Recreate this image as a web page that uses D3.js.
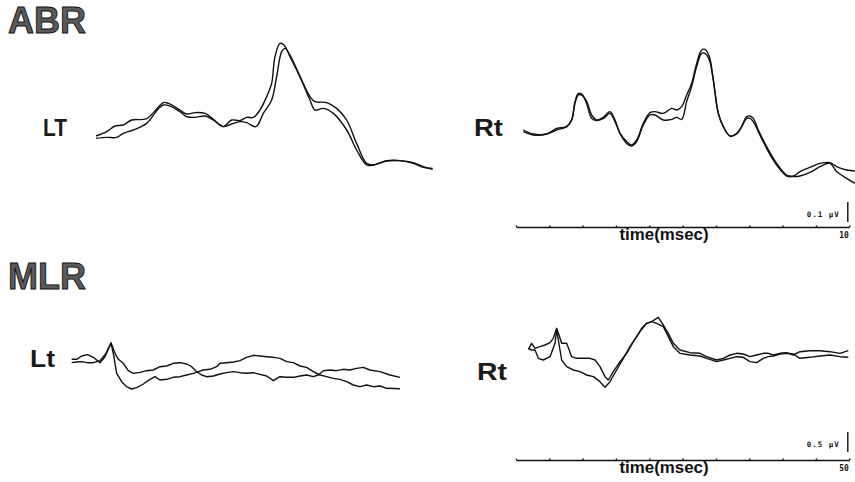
<!DOCTYPE html>
<html>
<head>
<meta charset="utf-8">
<script src="https://cdn.jsdelivr.net/npm/d3@7"></script>
<style>
  body { margin: 0; background: #fff; }
  svg { display: block; }
  .title { font-family: "Liberation Sans", Arial, sans-serif; font-weight: bold; font-size: 36px; fill: #5a5a5a; stroke: #111; stroke-width: 0.9px; }
  .side { font-family: "Liberation Sans", Arial, sans-serif; font-weight: bold; font-size: 24px; fill: #1a1a1a; }
  .trace { fill: none; stroke: #111; stroke-width: 1.4px; stroke-linejoin: round; }
  .axis path, .axis line { stroke: #111; stroke-width: 1.4px; }
  .axis text { font-family: "DejaVu Sans Mono", monospace; font-size: 8px; font-weight: bold; fill: #111; }
  .xlabel { font-family: "Liberation Sans", Arial, sans-serif; font-weight: bold; font-size: 16px; fill: #111; }
  .unit { font-family: "DejaVu Sans Mono", monospace; font-weight: bold; font-size: 7.5px; letter-spacing: 1px; fill: #111; }
</style>
</head>
<body>
<div id="chart"></div>
<script>
// [time ms, amplitude uV]
const abrLtA = [[0.21,0.02],[0.53,0.042],[0.78,0.07],[1.03,0.075],[1.28,0.1],[1.73,0.107],[2.23,0.187],[2.38,0.183],[2.73,0.15],[2.93,0.13],[3.18,0.137],[3.48,0.133],[3.73,0.103],[4.03,0.067],[4.28,0.1],[4.53,0.097],[4.73,0.113],[4.93,0.113],[5.13,0.15],[5.33,0.217],[5.48,0.283],[5.58,0.417],[5.73,0.483],[5.85,0.475],[6.03,0.417],[6.33,0.317],[6.63,0.217],[6.78,0.192],[7.13,0.187],[7.43,0.158],[7.73,0.1],[8.03,-0.017],[8.33,-0.117],[8.53,-0.125],[8.93,-0.103],[9.33,-0.103],[9.73,-0.117],[10.03,-0.137],[10.31,-0.142]];
const abrLtB = [[0.21,0.008],[0.53,0.013],[0.83,0.013],[1.03,0.033],[1.33,0.05],[1.73,0.083],[2.23,0.175],[2.73,0.142],[2.93,0.117],[3.18,0.113],[3.48,0.12],[3.73,0.1],[4.03,0.067],[4.28,0.08],[4.53,0.092],[4.73,0.087],[5.01,0.067],[5.23,0.133],[5.48,0.2],[5.63,0.317],[5.78,0.442],[5.88,0.458],[6.03,0.425],[6.33,0.317],[6.63,0.2],[6.78,0.15],[7.03,0.158],[7.33,0.133],[7.73,0.05],[8.03,-0.05],[8.33,-0.125],[8.53,-0.125],[8.93,-0.105],[9.33,-0.103],[9.73,-0.113],[10.03,-0.133],[10.31,-0.147]];
const abrRtA = [[0.22,0.042],[0.52,0.025],[0.92,0.03],[1.22,0.058],[1.52,0.067],[1.67,0.1],[1.77,0.183],[1.87,0.225],[1.97,0.225],[2.12,0.192],[2.27,0.125],[2.42,0.1],[2.62,0.113],[2.82,0.142],[2.97,0.1],[3.12,0.033],[3.32,-0.008],[3.47,-0.025],[3.62,0],[3.82,0.083],[4.02,0.137],[4.17,0.142],[4.42,0.133],[4.67,0.158],[4.82,0.15],[4.97,0.167],[5.12,0.225],[5.27,0.283],[5.42,0.383],[5.57,0.45],[5.67,0.453],[5.8,0.417],[5.92,0.3],[6.07,0.133],[6.22,0.067],[6.42,0.02],[6.62,0.03],[6.77,0.067],[6.92,0.117],[7.02,0.12],[7.12,0.108],[7.27,0.05],[7.52,-0.033],[7.82,-0.117],[8.12,-0.175],[8.32,-0.18],[8.52,-0.158],[8.87,-0.133],[9.12,-0.117],[9.42,-0.113],[9.62,-0.133],[9.92,-0.15],[10.17,-0.155]];
const abrRtB = [[0.22,0.05],[0.52,0.03],[0.92,0.03],[1.22,0.05],[1.52,0.067],[1.67,0.1],[1.77,0.192],[1.87,0.233],[1.97,0.23],[2.12,0.183],[2.27,0.108],[2.42,0.097],[2.62,0.108],[2.82,0.133],[2.97,0.092],[3.12,0.033],[3.32,-0.017],[3.47,-0.03],[3.62,-0.008],[3.82,0.075],[4.02,0.125],[4.17,0.125],[4.42,0.1],[4.67,0.103],[4.82,0.113],[4.97,0.103],[5.12,0.192],[5.27,0.267],[5.42,0.367],[5.57,0.433],[5.67,0.433],[5.8,0.4],[5.92,0.3],[6.07,0.133],[6.22,0.067],[6.42,0.02],[6.62,0.033],[6.77,0.067],[6.92,0.108],[7.02,0.108],[7.12,0.092],[7.27,0.042],[7.52,-0.042],[7.82,-0.125],[8.12,-0.18],[8.32,-0.183],[8.52,-0.18],[8.87,-0.158],[9.12,-0.133],[9.42,-0.117],[9.62,-0.158],[9.92,-0.192],[10.17,-0.217]];

const mlrLtA = [[1.75,0.017],[2.5,0.017],[3.25,0.1],[4.1,0.133],[5,0.067],[6,-0.067],[6.75,0.083],[7.65,0.433],[8.25,0.167],[8.75,0.017],[9.5,-0.083],[10.25,-0.267],[11,-0.333],[12,-0.308],[13,-0.267],[14,-0.25],[15,-0.167],[16,-0.15],[17,-0.083],[18,-0.067],[19,-0.1],[19.75,-0.167],[20.5,-0.292],[21.25,-0.375],[22,-0.417],[23,-0.4],[24,-0.35],[25,-0.317],[26,-0.292],[27,-0.317],[28,-0.333],[29,-0.317],[30,-0.358],[31,-0.4],[32,-0.517],[33,-0.417],[34,-0.433],[35,-0.433],[36,-0.4],[37,-0.375],[38,-0.417],[38.75,-0.375],[39.5,-0.267],[40.5,-0.25],[41.5,-0.267],[42.5,-0.233],[43.5,-0.25],[44.5,-0.208],[45.5,-0.183],[46.5,-0.25],[48,-0.292],[49.5,-0.375],[51,-0.433]];
const mlrLtB = [[1.75,-0.067],[2.5,-0.05],[3.25,-0.042],[4.1,-0.067],[5,-0.067],[6,-0.017],[6.9,0.167],[7.65,0.417],[8,0.167],[8.5,-0.333],[9.25,-0.542],[10,-0.667],[10.75,-0.725],[11.5,-0.692],[12.5,-0.6],[13.5,-0.483],[14.25,-0.417],[15,-0.5],[16,-0.483],[17,-0.433],[18,-0.417],[19,-0.375],[20,-0.333],[20.75,-0.292],[21.5,-0.25],[22.5,-0.233],[23.5,-0.167],[24,-0.083],[25,-0.067],[26,-0.05],[27,-0.017],[28,0.067],[29,0.117],[30,0.1],[31,0.083],[32,0.067],[33,0.042],[34,-0.042],[35,-0.067],[36,-0.15],[37,-0.183],[38,-0.292],[39,-0.375],[40,-0.417],[41,-0.458],[42,-0.483],[43,-0.542],[44,-0.625],[45,-0.667],[46,-0.625],[47,-0.667],[48,-0.65],[49,-0.708],[51,-0.717]];
const mlrRtA = [[1.85,0.017],[2.35,0.167],[2.85,0.042],[3.6,0.083],[4.35,0.125],[5.1,0.183],[5.6,0.292],[6.1,0.542],[6.45,0.375],[6.85,0.167],[7.6,0.167],[8.35,-0.167],[9.1,-0.208],[10.1,-0.208],[11.1,-0.208],[11.85,-0.25],[12.6,-0.417],[13.35,-0.667],[13.85,-0.75],[14.6,-0.542],[15.6,-0.292],[16.6,-0.083],[17.6,0.208],[18.6,0.458],[19.6,0.667],[20.35,0.708],[21.35,0.817],[22.1,0.625],[22.85,0.417],[23.6,0.167],[24.6,0],[26.1,-0.067],[27.6,-0.083],[28.6,-0.167],[30.1,-0.25],[31.1,-0.208],[32.1,-0.125],[33.1,-0.083],[34.1,-0.1],[35.1,-0.167],[36.1,-0.125],[37.1,-0.083],[37.85,-0.083],[38.6,-0.125],[39.6,-0.083],[40.6,-0.067],[41.6,-0.125],[42.6,-0.042],[44.1,-0.017],[45.6,-0.017],[47.1,-0.042],[48.6,-0.083],[49.85,-0.017]];
const mlrRtB = [[1.85,0.042],[2.35,0],[2.85,0],[3.35,-0.208],[4.1,-0.25],[5.1,-0.167],[5.85,0.167],[6.1,0.5],[6.35,0.25],[6.85,-0.25],[7.6,-0.417],[8.6,-0.5],[9.6,-0.542],[10.6,-0.625],[11.6,-0.667],[12.6,-0.792],[13.35,-0.933],[14.1,-0.792],[15.1,-0.5],[16.1,-0.208],[17.1,0.083],[18.1,0.333],[18.85,0.542],[19.6,0.667],[20.35,0.708],[21.1,0.667],[22.1,0.583],[22.85,0.333],[23.6,0.083],[24.6,-0.083],[26.1,-0.125],[27.6,-0.15],[28.6,-0.208],[30.1,-0.292],[31.1,-0.25],[32.1,-0.208],[33.1,-0.167],[34.1,-0.183],[35.1,-0.292],[36.1,-0.317],[37.1,-0.208],[37.85,-0.167],[38.6,-0.15],[39.6,-0.1],[40.6,-0.083],[41.6,-0.1],[42.6,-0.208],[44.1,-0.183],[45.6,-0.15],[47.1,-0.125],[48.6,-0.167],[49.85,-0.183]];

// scale bars and time axes
const abrTimeDomain = [0, 10];
const mlrTimeDomain = [0, 50];
const abrBarValue = 0.1;
const mlrBarValue = 0.5;
const abrBarLabel = "0.1 \u03bcV";
const mlrBarLabel = "0.5 \u03bcV";
const axisTitle = "time(msec)";

const width = 855, height = 482;

const svg = d3.select("#chart").append("svg")
  .attr("width", width)
  .attr("height", height);

// titles
svg.append("text").attr("class", "title").attr("x", 8).attr("y", 33).text("ABR");
svg.append("text").attr("class", "title").attr("x", 8).attr("y", 289).text("MLR");

// side labels
function sideLabel(txt, x, y, len) {
  svg.append("text").attr("class", "side")
    .attr("x", x).attr("y", y)
    .attr("textLength", len).attr("lengthAdjust", "spacingAndGlyphs")
    .text(txt);
}
sideLabel("LT", 43, 136, 24);
sideLabel("Rt", 474, 136, 29);
sideLabel("Lt", 30, 367, 25);
sideLabel("Rt", 477, 380, 30);

// scales per panel
const xAbrL = d3.scaleLinear().domain(abrTimeDomain).range([89, 422.3]);
const xAbrR = d3.scaleLinear().domain(abrTimeDomain).range([516, 849.3]);
const yAbr = d3.scaleLinear().domain([-0.25, 0.5]).range([190, 40]);

const xMlrL = d3.scaleLinear().domain(mlrTimeDomain).range([60, 393.3]);
const xMlrR = d3.scaleLinear().domain(mlrTimeDomain).range([516, 849.3]);
const yMlrL = d3.scaleLinear().domain([-1, 1]).range([400, 320]);
const yMlrR = d3.scaleLinear().domain([-1, 1]).range([390, 310]);

function drawTrace(data, x, y, curve) {
  svg.append("path")
    .datum(data)
    .attr("class", "trace")
    .attr("d", d3.line().x(d => x(d[0])).y(d => y(d[1])).curve(curve));
}

drawTrace(abrLtA, xAbrL, yAbr, d3.curveCatmullRom);
drawTrace(abrLtB, xAbrL, yAbr, d3.curveCatmullRom);
drawTrace(abrRtA, xAbrR, yAbr, d3.curveCatmullRom);
drawTrace(abrRtB, xAbrR, yAbr, d3.curveCatmullRom);

drawTrace(mlrLtA, xMlrL, yMlrL, d3.curveLinear);
drawTrace(mlrLtB, xMlrL, yMlrL, d3.curveLinear);
drawTrace(mlrRtA, xMlrR, yMlrR, d3.curveLinear);
drawTrace(mlrRtB, xMlrR, yMlrR, d3.curveLinear);

// time axis with the end value only, plus amplitude bar
function timeAxis(x, axisY, domain, barValue, barLabel, yScale, barBottom) {
  const last = domain[1];
  const ax = svg.append("g")
    .attr("class", "axis")
    .attr("transform", "translate(0," + axisY + ")")
    .call(d3.axisBottom(x).ticks(10).tickSize(-1.5).tickSizeOuter(0).tickPadding(5)
      .tickFormat(d => d === last ? d : ""));
  ax.selectAll(".tick text").attr("text-anchor", "end").attr("dx", "-1");

  svg.append("text").attr("class", "xlabel")
    .attr("x", 664).attr("y", axisY + 13)
    .attr("textLength", 89).attr("lengthAdjust", "spacingAndGlyphs")
    .attr("text-anchor", "middle")
    .text(axisTitle);

  const barLen = yScale(0) - yScale(barValue);
  const bx = x(last) - 1.5;
  svg.append("line")
    .attr("x1", bx).attr("x2", bx)
    .attr("y1", barBottom - barLen).attr("y2", barBottom)
    .attr("stroke", "#111").attr("stroke-width", 1.4);

  svg.append("text").attr("class", "unit")
    .attr("x", bx - 8).attr("y", barBottom - 5)
    .attr("text-anchor", "end")
    .text(barLabel);
}

timeAxis(xAbrR, 227, abrTimeDomain, abrBarValue, abrBarLabel, yAbr, 222);
timeAxis(xMlrR, 460, mlrTimeDomain, mlrBarValue, mlrBarLabel, yMlrR, 452);
</script>
</body>
</html>
